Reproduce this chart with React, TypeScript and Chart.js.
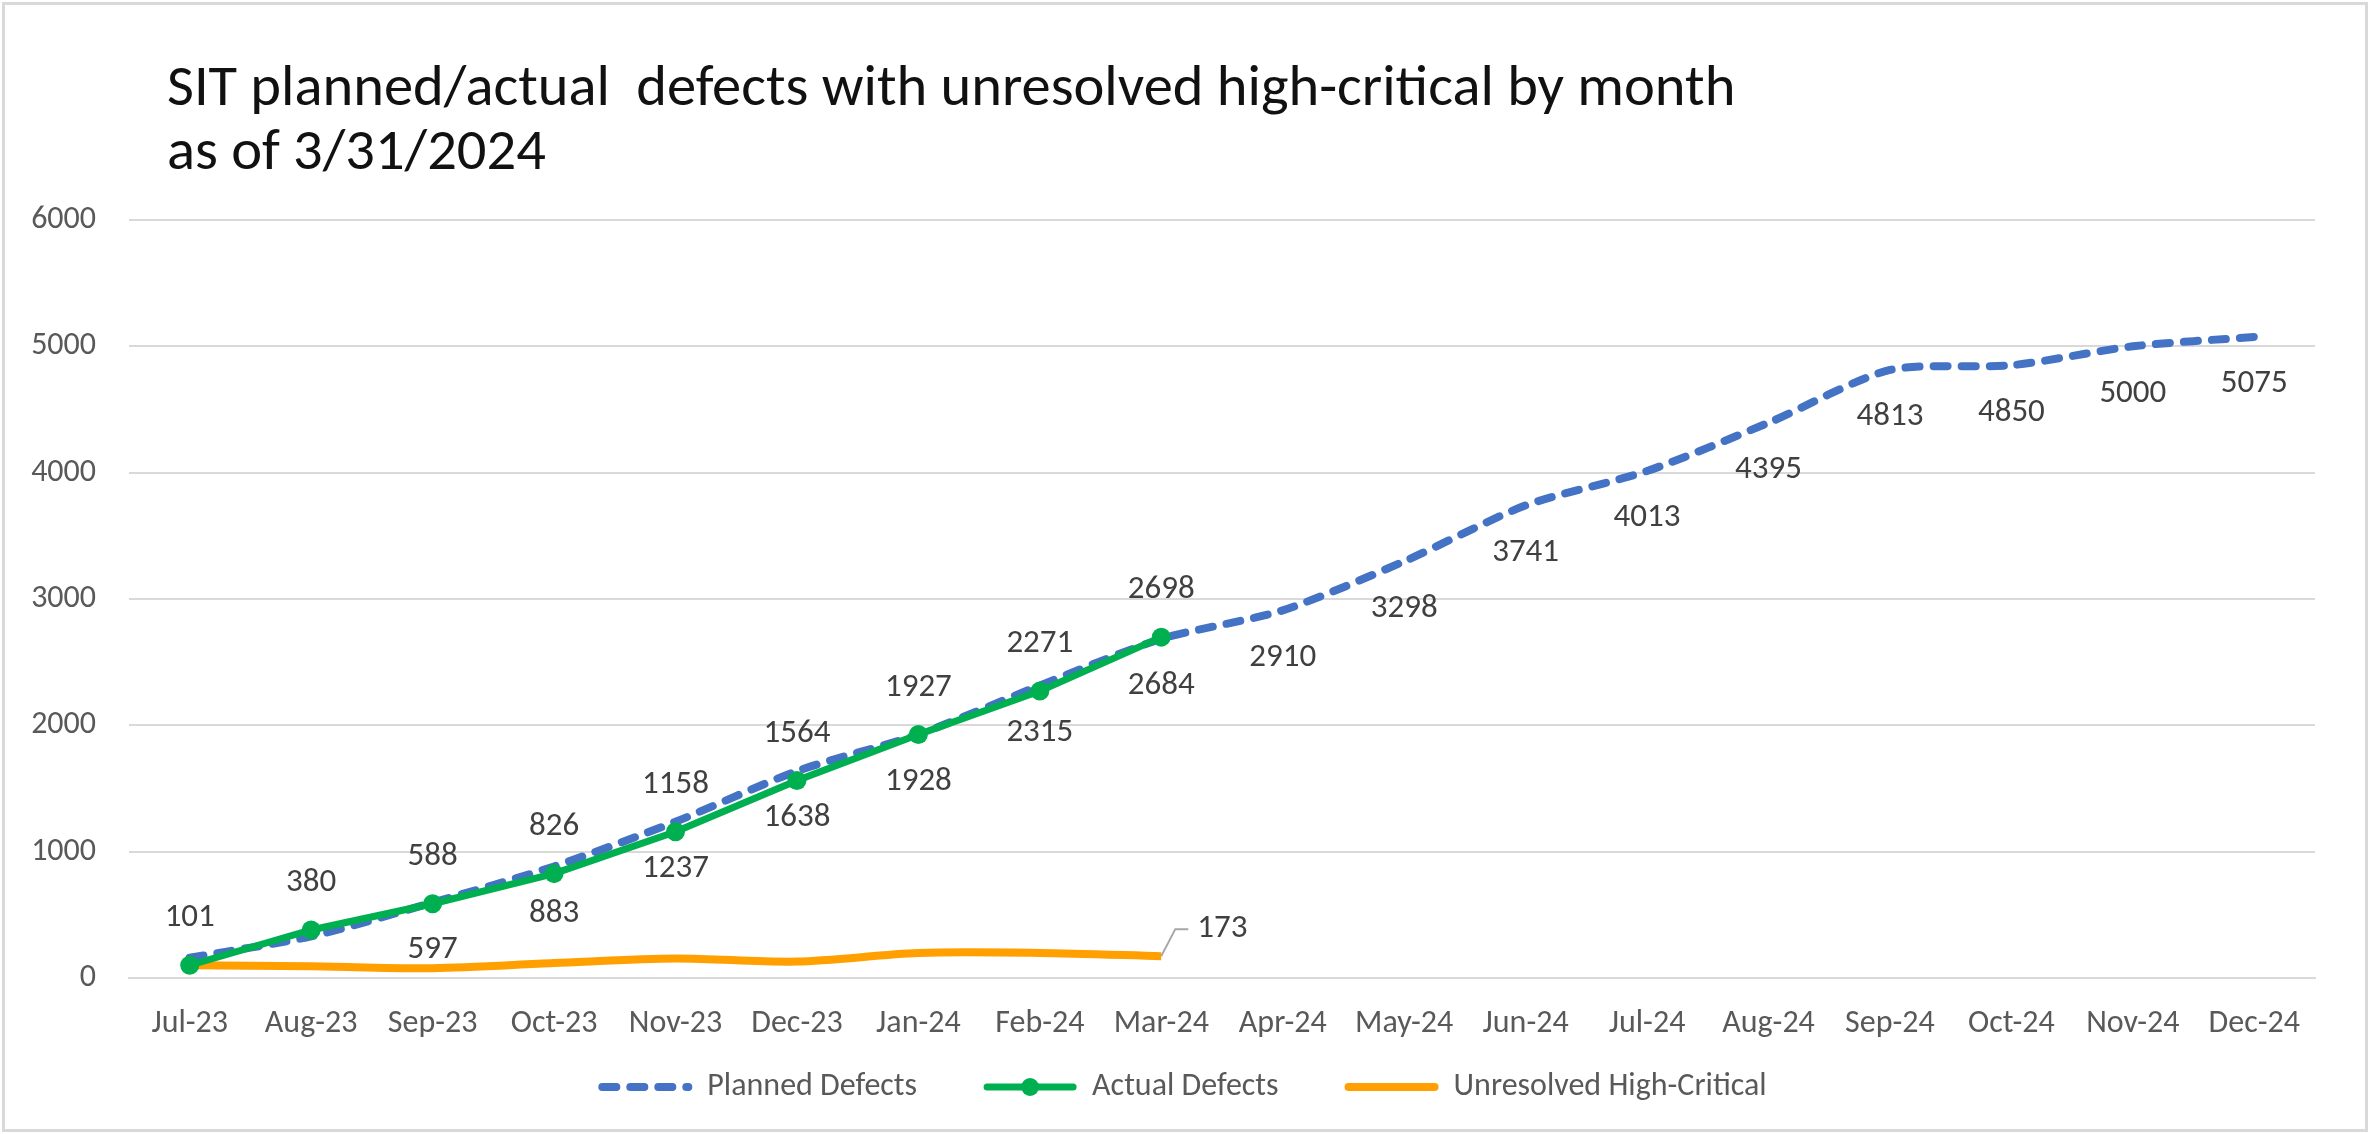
import React, { useEffect, useRef } from 'react';
import { Chart, registerables } from 'chart.js';

Chart.register(...registerables);

const months = ['Jul-23', 'Aug-23', 'Sep-23', 'Oct-23', 'Nov-23', 'Dec-23', 'Jan-24', 'Feb-24', 'Mar-24', 'Apr-24', 'May-24', 'Jun-24', 'Jul-24', 'Aug-24', 'Sep-24', 'Oct-24', 'Nov-24', 'Dec-24'];
const plannedDefects = [160, 330, 597, 883, 1237, 1638, 1928, 2315, 2684, 2910, 3298, 3741, 4013, 4395, 4813, 4850, 5000, 5075];
const actualDefects = [101, 380, 588, 826, 1158, 1564, 1927, 2271, 2698, null, null, null, null, null, null, null, null, null];
const unresolvedHighCritical = [100, 93, 78, 118, 155, 130, 198, 198, 173, null, null, null, null, null, null, null, null, null];
const hiddenPlannedLabels = [0, 1];
const seriesNames = ['Planned Defects', 'Actual Defects', 'Unresolved High-Critical'];
const titleLines = ['SIT planned/actual  defects with unresolved high-critical by month', 'as of 3/31/2024'];
const yMin = 0;
const yMax = 6000;
const yStep = 1000;

const FONT = "Carlito, 'Liberation Sans', Arial, sans-serif";
const BLUE = '#4472C4';
const GREEN = '#00B050';
const ORANGE = '#FFA000';
const GRID = '#D9D9D9';
const TICK = '#595959';
const LABEL = '#404040';

const decorPlugin = {
  id: 'decor',
  beforeDraw(chart: any) {
    const { ctx, width, height } = chart;
    ctx.save();
    ctx.fillStyle = '#ffffff';
    ctx.fillRect(0, 0, width, height);
    ctx.strokeStyle = GRID;
    ctx.lineWidth = 3;
    ctx.strokeRect(3.5, 3.5, width - 14, height - 7);
    ctx.restore();
  },
  afterDatasetsDraw(chart: any) {
    const { ctx } = chart;
    ctx.save();
    ctx.font = `33px ${FONT}`;
    ctx.fillStyle = LABEL;
    ctx.textAlign = 'center';
    ctx.textBaseline = 'middle';
    const off = 47;
    chart.getDatasetMeta(0).data.forEach((pt: any, i: number) => {
      if (hiddenPlannedLabels.includes(i)) return;
      const v = plannedDefects[i];
      if (v == null) return;
      ctx.fillText(String(v), pt.x, pt.y + off);
    });
    chart.getDatasetMeta(1).data.forEach((pt: any, i: number) => {
      const v = actualDefects[i];
      if (v == null) return;
      ctx.fillText(String(v), pt.x, pt.y - off);
    });
    let last = -1;
    unresolvedHighCritical.forEach((v, i) => { if (v != null) last = i; });
    if (last >= 0) {
      const pt = chart.getDatasetMeta(2).data[last];
      ctx.strokeStyle = '#A6A6A6';
      ctx.lineWidth = 2;
      ctx.beginPath();
      ctx.moveTo(pt.x, pt.y);
      ctx.lineTo(pt.x + 14, pt.y - 27);
      ctx.lineTo(pt.x + 27, pt.y - 27);
      ctx.stroke();
      ctx.textAlign = 'left';
      ctx.fillText(String(unresolvedHighCritical[last]), pt.x + 36, pt.y - 27);
    }
    ctx.restore();
  },
  afterDraw(chart: any) {
    const { ctx, width } = chart;
    ctx.save();
    ctx.fillStyle = '#111111';
    ctx.font = `58.5px ${FONT}`;
    ctx.textAlign = 'left';
    ctx.textBaseline = 'middle';
    ctx.fillText(titleLines[0], 167, 90);
    ctx.fillText(titleLines[1], 167, 154);
    ctx.font = `32px ${FONT}`;
    const sample = 94;
    const gapText = 15;
    const gapItem = 66;
    const widths = seriesNames.map((n) => ctx.measureText(n).width);
    const total = widths.reduce((a, w) => a + sample + gapText + w, 0) + gapItem * (seriesNames.length - 1);
    let x = width / 2 - total / 2 - 6;
    const y = 1087;
    const styles = [
      { color: BLUE, dash: [14, 14], w: 8, marker: false },
      { color: GREEN, dash: [], w: 7, marker: true },
      { color: ORANGE, dash: [], w: 8, marker: false },
    ];
    seriesNames.forEach((n, i) => {
      const s = styles[i];
      ctx.strokeStyle = s.color;
      ctx.lineWidth = s.w;
      ctx.lineCap = 'round';
      ctx.setLineDash(s.dash);
      ctx.beginPath();
      ctx.moveTo(x + 4, y);
      ctx.lineTo(x + sample - 4, y);
      ctx.stroke();
      ctx.setLineDash([]);
      if (s.marker) {
        ctx.fillStyle = s.color;
        ctx.beginPath();
        ctx.arc(x + sample / 2, y, 9, 0, Math.PI * 2);
        ctx.fill();
      }
      ctx.fillStyle = TICK;
      ctx.fillText(n, x + sample + gapText, y);
      x += sample + gapText + widths[i] + gapItem;
    });
    ctx.restore();
  },
};

export default function App() {
  const canvasRef = useRef<HTMLCanvasElement | null>(null);

  useEffect(() => {
    document.body.style.margin = '0';
    const canvas = canvasRef.current;
    if (!canvas) return;
    const chart = new Chart(canvas, {
      type: 'line',
      data: {
        labels: months,
        datasets: [
          {
            label: seriesNames[0],
            data: plannedDefects,
            borderColor: BLUE,
            backgroundColor: BLUE,
            borderWidth: 8,
            borderDash: [14, 14],
            borderCapStyle: 'round',
            pointRadius: 0,
            tension: 0.25,
            order: 2,
          },
          {
            label: seriesNames[1],
            data: actualDefects,
            borderColor: GREEN,
            backgroundColor: GREEN,
            borderWidth: 7,
            pointRadius: 9.5,
            pointBorderWidth: 0,
            pointBackgroundColor: GREEN,
            tension: 0,
            order: 0,
          },
          {
            label: seriesNames[2],
            data: unresolvedHighCritical,
            borderColor: ORANGE,
            backgroundColor: ORANGE,
            borderWidth: 8,
            pointRadius: 0,
            tension: 0.3,
            order: 1,
          },
        ],
      },
      options: {
        responsive: false,
        maintainAspectRatio: false,
        devicePixelRatio: 1,
        animation: false,
        layout: { padding: { top: 220, right: 62, bottom: 0, left: 0 } },
        plugins: {
          legend: { display: false },
          title: { display: false },
          tooltip: { enabled: false },
        },
        scales: {
          x: {
            offset: true,
            grid: { display: false, drawTicks: false },
            border: { display: true, color: GRID, width: 2 },
            ticks: { color: TICK, font: { family: FONT, size: 32 }, padding: 27, maxRotation: 0, autoSkip: false },
            afterFit(scale: any) { scale.height = 156; },
          },
          y: {
            min: yMin,
            max: yMax,
            grid: { color: GRID, lineWidth: 2, drawTicks: false },
            border: { display: false },
            ticks: {
              stepSize: yStep,
              color: TICK,
              font: { family: FONT, size: 32 },
              padding: 33,
              callback: (v: any) => String(v),
            },
            afterFit(scale: any) { scale.width = 129; },
          },
        },
      },
      plugins: [decorPlugin],
    } as any);
    return () => chart.destroy();
  }, []);

  return (
    <div style={{ position: 'absolute', left: 0, top: 0, width: 2377, height: 1134 }}>
      <canvas ref={canvasRef} width={2377} height={1134} style={{ display: 'block', width: 2377, height: 1134 }} />
    </div>
  );
}
